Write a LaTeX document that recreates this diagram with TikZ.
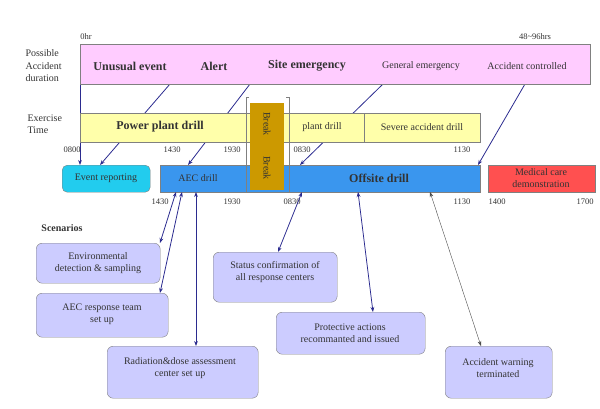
\documentclass[tikz,border=0pt]{standalone}
\usepackage{fontspec}
\setmainfont{Liberation Serif}
\usetikzlibrary{arrows.meta}
\definecolor{pinkf}{HTML}{FFCCFF}
\definecolor{yelf}{HTML}{FFFFAA}
\definecolor{bluef}{HTML}{3A96EE}
\definecolor{cyanf}{HTML}{22CCEE}
\definecolor{redf}{HTML}{FF5050}
\definecolor{lavf}{HTML}{CCCCFF}
\definecolor{brownf}{HTML}{CC9900}
\definecolor{navy}{HTML}{2B2B8F}
\definecolor{txt}{HTML}{333333}
\begin{document}
\begin{tikzpicture}[x=1pt,y=-1pt,
  bar/.style={draw=gray,anchor=north west,inner sep=0pt},
  lab/.style={text=txt,font=\fontsize{10}{12.5}\selectfont,align=center},
  big/.style={text=txt,font=\bfseries\fontsize{12}{14}\selectfont},
  tm/.style={text=txt,font=\fontsize{8.5}{10}\selectfont},
  scen/.style={draw=gray,fill=lavf,rounded corners=6pt,anchor=north west,inner sep=0pt,lab},
  arr/.style={draw=navy,-{Stealth[length=5pt]},thick},
  barr/.style={draw=navy,{Stealth[length=5pt]}-{Stealth[length=5pt]},thick}]
\useasboundingbox (0,0) rectangle (600,408);
\coordinate (p0) at (80,84); \coordinate (p1) at (170,84); \coordinate (p2) at (250,84);
\coordinate (p3) at (383,84); \coordinate (p4) at (525,84);
\draw[arr] (p0) -- (80,165);
\draw[arr] (p1) -- (100,165);
\draw[arr] (p2) -- (188,165);
\draw[arr] (p3) -- (300,165);
\draw[arr] (p4) -- (478,165);
\node[bar,fill=pinkf,minimum width=510pt,minimum height=40pt] (pink) at (80,44) {};
\node[big] (ue) at (130,66) {Unusual event};
\node[big] (al) at (214,66) {Alert};
\node[big] (se) at (307,66) {Site emergency};
\node[lab] (ge) at (421,66) {General emergency};
\node[lab] (ac) at (527,66) {Accident controlled};
\node[tm] (h0) at (86,37) {0hr};
\node[tm] (h1) at (535,37) {48\textasciitilde96hrs};
\node[lab,align=left,anchor=west] (pad) at (22,66) {Possible\\Accident\\duration};
\node[bar,fill=yelf,minimum width=400pt,minimum height=29pt] (yel) at (80,113) {};
\draw[gray] (364,113) -- (364,142);
\node[big] (ppd) at (160,127) {Power plant drill};
\node[lab] (pd) at (322,127) {plant drill};
\node[lab] (sad) at (422,127) {Severe accident drill};
\node[lab,align=left,anchor=west] (et) at (24,124) {Exercise\\Time};
\node[tm] at (72,150) {0800}; \node[tm] at (172,150) {1430}; \node[tm] at (232,150) {1930};
\node[tm] at (302,150) {0830}; \node[tm] at (462,150) {1130};
\node[bar,fill=cyanf,rounded corners=5pt,minimum width=88pt,minimum height=27pt] (er) at (62,165) {};
\node[lab] at (106,178) {Event reporting};
\node[bar,fill=bluef,minimum width=320pt,minimum height=27pt] (off) at (160,165) {};
\node[lab] (aec) at (198,178) {AEC drill};
\node[big] (od) at (379,178) {Offsite drill};
\node[bar,fill=redf,minimum width=107pt,minimum height=27pt] (med) at (488,165) {};
\node[lab] at (541,178) {Medical care\\demonstration};
\draw[gray] (249,97) -- (246,97) -- (246,192) -- (249,192);
\draw[gray] (286,97) -- (289,97) -- (289,192) -- (286,192);
\node[bar,fill=brownf,draw=none,minimum width=34pt,minimum height=87pt] (brk) at (250,103) {};
\node[lab,rotate=-90] at (267,124) {Break};
\node[lab,rotate=-90] at (267,168) {Break};
\node[tm] at (160,202) {1430}; \node[tm] at (232,202) {1930}; \node[tm] at (292,202) {0830};
\node[tm] at (462,202) {1130}; \node[tm] at (497,202) {1400}; \node[tm] at (585,202) {1700};
\node[text=txt,font=\bfseries\fontsize{10}{12}\selectfont] (sc) at (62,228) {Scenarios};
\node[scen,minimum width=124pt,minimum height=40pt] (s1) at (36,243) {};
\node[lab] at (98,263) {Environmental\\detection \& sampling};
\node[scen,minimum width=132pt,minimum height=44pt] (s2) at (36,293) {};
\node[lab] at (102,314) {AEC response team\\set up};
\node[scen,minimum width=151pt,minimum height=52pt] (s3) at (107,346) {};
\node[lab] at (180,368) {Radiation\&dose assessment\\center set up};
\node[scen,minimum width=124pt,minimum height=50pt] (s4) at (213,252) {};
\node[lab] at (275,272) {Status confirmation of\\all response centers};
\node[scen,minimum width=149pt,minimum height=42pt] (s5) at (276,312) {};
\node[lab] at (350,333) {Protective actions\\recommanted and issued};
\node[scen,minimum width=107pt,minimum height=52pt] (s6) at (445,346) {};
\node[lab] at (498,368) {Accident warning\\terminated};
\draw[barr] (176,192) -- (160,243);
\draw[barr] (182,192) -- (160,293);
\draw[barr] (196,192) -- (196,346);
\draw[barr] (302,192) -- (278,252);
\draw[barr] (358,192) -- (373,312);
\draw[{Stealth[length=5pt]}-{Stealth[length=5pt]},draw=black!70,thin] (430,192) -- (481,346);
\end{tikzpicture}
\end{document}
